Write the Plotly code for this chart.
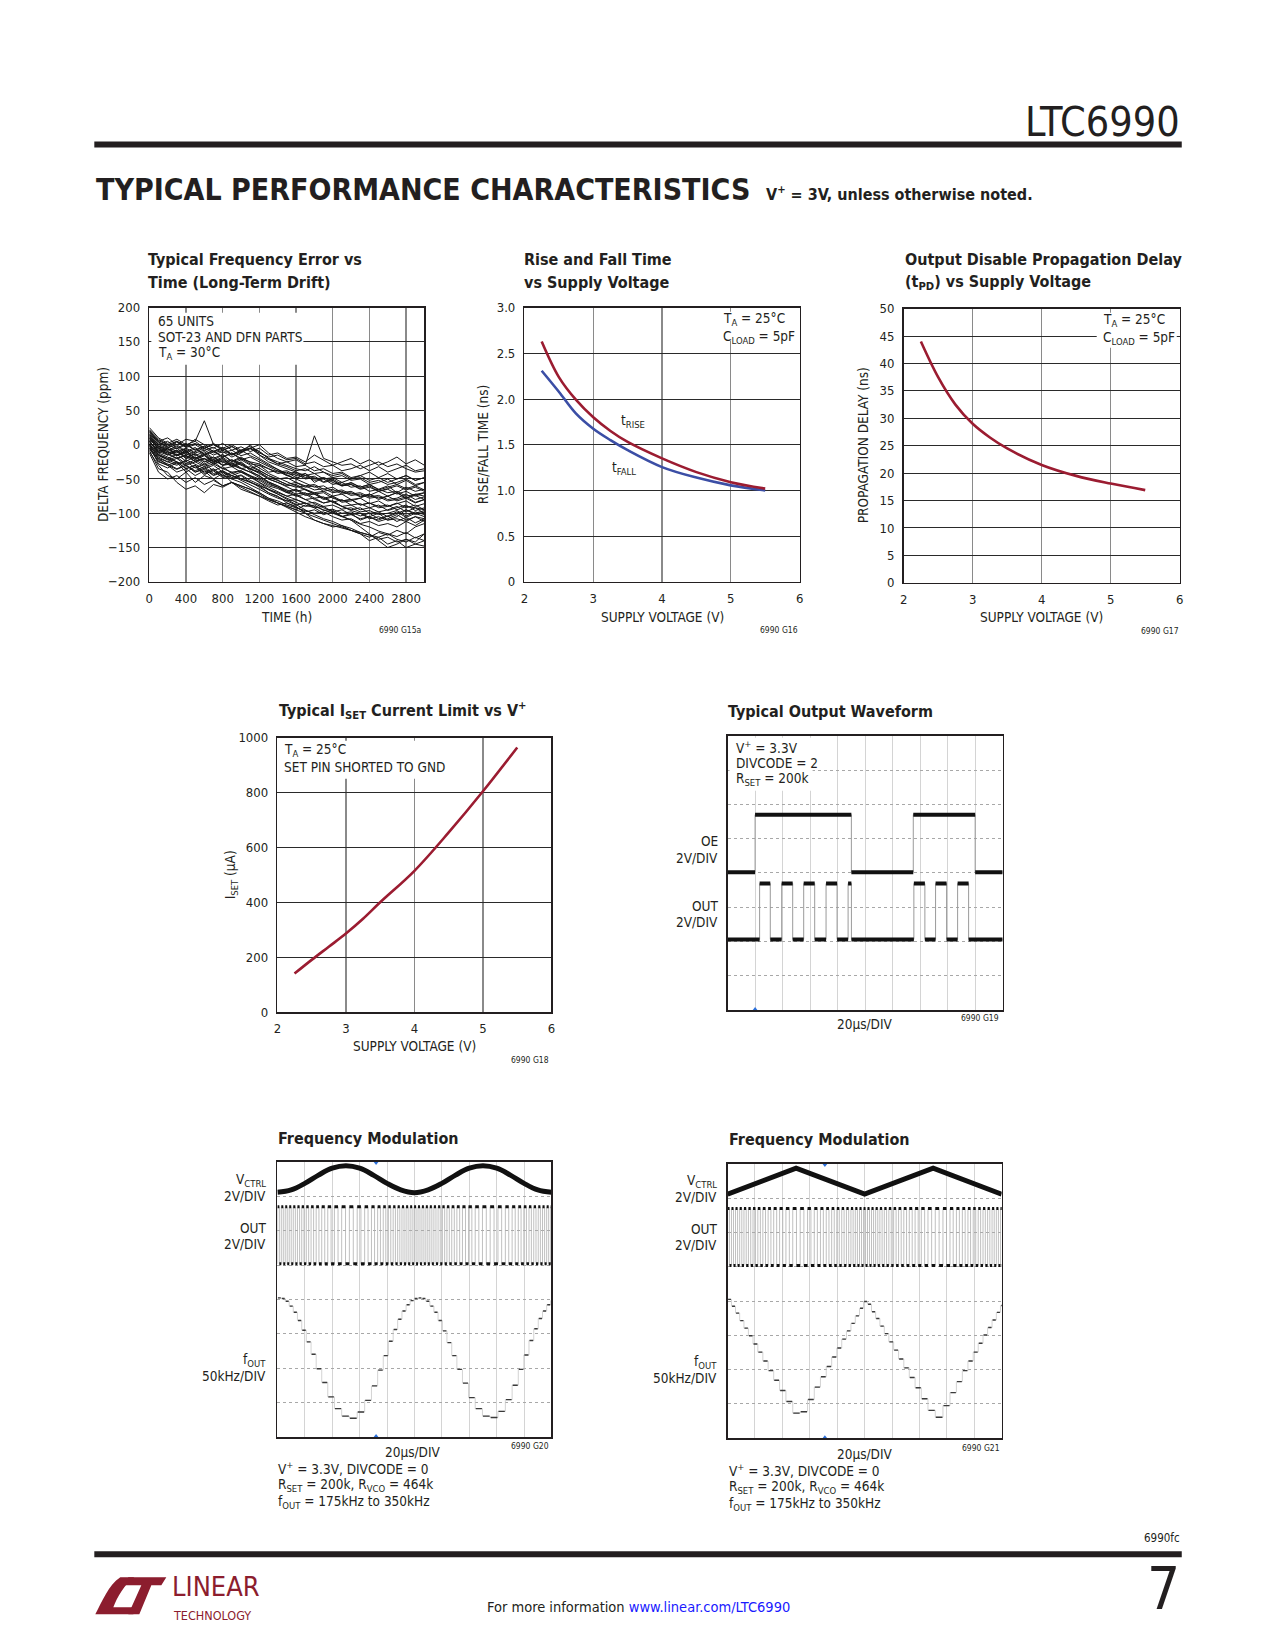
import plotly.graph_objects as go

W, H = 1275, 1650          # page size
M = 8                      # default page margin around the figure
FW, FH = W - 2 * M, H - 2 * M
SX, OX = 1.0068, -3.8      # fine layout calibration (page px)
SY, OY = 1.0097, -6.6
FONT = "Liberation Sans Narrow, DejaVu Sans Condensed, Arial Narrow, sans-serif"
INK = "#231f20"
RED = "#9b1c31"
BLUE = "#3b4ea5"
TS = 13      # tick labels
AS = 13.5    # annotation / axis-title text
TT = 16      # chart titles

# ---------------- data: long-term drift (ppm) ----------------
TIME_H = [0, 100, 200, 300, 400, 500, 600, 700, 800, 900, 1000, 1100, 1200, 1300, 1400, 1500,
          1600, 1700, 1800, 1900, 2000, 2100, 2200, 2300, 2400, 2500, 2600, 2700, 2800, 2900, 3000]
DRIFT_PPM = [
    [5, -10, -15, -8, -20, -12, -25, -18, -30, -22, -28, -35, -30, -40, -38, -45, -50, -42, -55, -48, -52, -60, -55, -62, -58, -65, -60, -70, -62, -68, -65],
    [15, 0, -5, 5, -2, 8, 0, -5, 2, -8, -3, -10, -5, -15, -12, -20, -18, -25, -15, -22, -30, -25, -20, -28, -22, -30, -25, -18, -28, -22, -30],
    [-5, -25, -30, -40, -35, -45, -38, -50, -42, -55, -60, -65, -72, -80, -85, -90, -95, -100, -105, -110, -115, -120, -125, -130, -140, -135, -145, -140, -150, -145, -148],
    [10, -8, -12, -20, -15, -25, -20, -28, -22, -30, -35, -40, -45, -55, -60, -68, -65, -72, -70, -78, -75, -82, -80, -88, -85, -90, -88, -95, -90, -92, -95],
    [20, 5, 10, 0, 8, 5, 35, 0, -5, 0, -8, -5, -10, -20, -25, -30, -35, -38, -32, -40, -45, -42, -50, -48, -55, -52, -58, -55, -50, -58, -55],
    [0, -20, -25, -30, -22, -28, -35, -30, -40, -45, -50, -55, -60, -70, -75, -85, -90, -100, -110, -115, -120, -118, -125, -130, -135, -128, -132, -125, -130, -120, -115],
    [12, -2, -8, -5, -15, -10, -5, -12, -8, -15, -10, -5, 0, -12, -20, -25, -22, -30, 13, -20, -25, -30, -28, -35, -30, -25, -32, -28, -35, -40, -38],
    [-10, -30, -45, -50, -40, -55, -45, -50, -60, -55, -65, -70, -75, -80, -85, -90, -95, -88, -92, -100, -95, -105, -100, -110, -105, -100, -110, -105, -95, -100, -105],
    [8, -5, -10, -15, -10, -20, -15, -25, -20, -30, -25, -35, -40, -50, -55, -60, -58, -65, -70, -68, -75, -72, -80, -78, -72, -80, -75, -82, -78, -85, -80],
    [18, 2, -3, -10, -5, -12, -8, -15, -10, -18, -12, 0, -15, -25, -30, -35, -40, -45, -42, -50, -48, -55, -50, -45, -52, -48, -55, -50, -45, -52, -48],
    [-2, -15, -20, -25, -35, -30, -40, -35, -45, -50, -45, -55, -60, -65, -70, -75, -80, -85, -90, -95, -100, -105, -110, -120, -130, -140, -150, -145, -138, -142, -130],
    [5, -12, -18, -25, -30, -25, -32, -28, -35, -40, -38, -45, -50, -58, -62, -70, -75, -72, -80, -85, -82, -90, -95, -92, -100, -98, -105, -100, -95, -102, -98],
    [22, 8, 0, 5, -3, 2, -5, 0, -8, -3, -10, -6, -12, -18, -15, -22, -20, -28, -25, -32, -30, -38, -35, -30, -38, -32, -40, -35, -30, -38, -35],
    [-8, -35, -40, -55, -65, -60, -70, -58, -62, -55, -60, -65, -70, -78, -82, -88, -92, -95, -100, -98, -105, -110, -108, -115, -112, -118, -115, -120, -112, -118, -110],
    [10, -5, -15, -10, -20, -18, -25, -22, -30, -28, -35, -32, -38, -45, -50, -48, -55, -60, -58, -65, -62, -70, -68, -75, -72, -78, -75, -70, -78, -72, -75],
    [3, -10, -5, -15, -8, -20, -12, -22, -15, -25, -20, -28, -30, -35, -42, -40, -48, -45, -52, -50, -58, -55, -62, -60, -68, -65, -70, -68, -75, -72, -70],
    [-5, -20, -30, -25, -35, -30, -42, -38, -48, -45, -52, -58, -65, -72, -78, -82, -88, -85, -92, -90, -98, -95, -102, -100, -108, -105, -110, -108, -112, -105, -108],
    [15, 0, 5, -5, 2, -8, -2, -10, -5, -15, -8, -2, -10, -20, -28, -32, -38, -35, -42, -40, -48, -45, -52, -50, -58, -55, -50, -58, -52, -60, -55],
    [7, -15, -22, -18, -28, -22, -30, -25, -35, -32, -40, -45, -55, -65, -72, -80, -88, -95, -102, -108, -112, -118, -122, -128, -132, -138, -135, -142, -138, -145, -140],
    [12, -3, -8, -2, -12, -6, -15, -10, -18, -12, -20, -25, -28, -35, -40, -38, -45, -42, -50, -48, -55, -60, -58, -65, -62, -68, -65, -72, -68, -75, -70],
    [0, -18, -25, -20, -30, -38, -32, -42, -38, -45, -40, -48, -55, -62, -68, -75, -72, -80, -78, -85, -82, -90, -88, -95, -92, -98, -95, -90, -98, -92, -100],
    [25, 10, 2, 8, 0, 5, -5, 2, -8, -2, -12, -5, -15, -22, -28, -25, -32, -30, -38, -35, -42, -40, -48, -45, -40, -48, -42, -50, -45, -52, -48],
    [-3, -22, -28, -35, -30, -40, -36, -45, -40, -50, -55, -62, -70, -78, -85, -92, -98, -105, -110, -115, -118, -122, -125, -128, -132, -135, -130, -138, -142, -135, -140],
    [9, -6, -12, -8, -18, -14, -22, -18, -26, -22, -30, -35, -42, -50, -55, -62, -68, -65, -72, -70, -78, -82, -80, -88, -85, -92, -90, -85, -92, -88, -95],
    [4, -8, -14, -20, -16, -24, -20, -28, -24, -32, -28, -36, -40, -48, -52, -58, -62, -60, -66, -64, -70, -68, -74, -72, -78, -76, -82, -80, -76, -84, -80],
    [16, 4, -2, 4, -4, 0, -8, -4, -12, -8, -16, -12, -20, -28, -36, -44, -50, -56, -62, -60, -68, -66, -72, -70, -76, -74, -80, -78, -72, -80, -76],
    [-12, -40, -50, -45, -55, -48, -58, -52, -60, -55, -62, -68, -75, -82, -88, -85, -92, -98, -95, -102, -98, -105, -102, -108, -105, -112, -108, -102, -110, -105, -112],
    [6, -12, -6, -16, -10, -20, -14, -24, -18, -28, -22, -30, -38, -45, -52, -58, -55, -62, -60, -68, -65, -72, -70, -76, -74, -68, -75, -70, -78, -74, -80],
    [19, 4, -4, 0, -10, -4, -14, -8, -18, -12, -22, -18, -25, -32, -38, -45, -42, -50, -48, -55, -52, -60, -58, -64, -60, -68, -64, -60, -66, -62, -68],
    [-1, -28, -34, -26, -40, -32, -44, -36, -46, -40, -50, -54, -62, -70, -76, -82, -80, -86, -84, -90, -88, -94, -92, -98, -96, -102, -100, -96, -104, -98, -102],
    [14, -4, -10, -16, -12, -22, -16, -26, -20, -32, -26, -38, -46, -54, -60, -66, -72, -70, -78, -76, -84, -80, -88, -86, -92, -88, -96, -92, -88, -96, -92],
    [2, -16, -22, -28, -24, -34, -28, -38, -32, -42, -38, -46, -52, -60, -64, -70, -66, -74, -72, -80, -76, -84, -82, -78, -86, -82, -90, -86, -82, -90, -86],
    [11, -2, -6, -12, -6, -16, -10, -20, -14, -24, -18, -26, -34, -42, -48, -54, -60, -66, -72, -78, -84, -90, -96, -100, -106, -110, -104, -112, -106, -114, -108],
    [-6, -24, -30, -36, -30, -40, -34, -44, -38, -48, -44, -52, -58, -66, -72, -78, -84, -90, -88, -96, -94, -100, -98, -104, -100, -108, -104, -98, -106, -100, -96],
    [21, 6, 0, -6, 0, -8, -2, -10, -4, -14, -8, -16, -22, -30, -36, -42, -40, -48, -46, -54, -50, -58, -56, -62, -58, -66, -62, -58, -64, -60, -66],
    [1, -14, -20, -14, -24, -18, -28, -22, -30, -26, -34, -40, -48, -56, -62, -68, -74, -80, -86, -92, -98, -104, -110, -116, -120, -126, -130, -134, -128, -136, -130],
]

# ---------------- data: rise / fall, tPD, ISET vs supply ----------------
SUPPLY_V = [2.25, 2.5, 2.75, 3.0, 3.25, 3.5, 4.0, 4.5, 5.0, 5.5]
T_RISE_NS = [2.63, 2.24, 1.99, 1.80, 1.65, 1.53, 1.35, 1.20, 1.09, 1.02]
T_FALL_NS = [2.31, 2.08, 1.84, 1.675, 1.55, 1.44, 1.255, 1.14, 1.055, 1.00]
T_PD_NS = [44.0, 37.5, 32.5, 29.0, 26.5, 24.5, 21.5, 19.5, 18.1, 16.9]
I_SET_UA = [140, 190, 238, 286, 340, 400, 515, 655, 805, 965]

# ---------------- data: output waveform (scope divisions) ----------------
OE_EDGES_DIV = [1.0, 4.5, 6.75, 9.0]
OE_LEVELS_DIV = [4.02, 5.70]          # low, high
OUT_EDGES_DIV = [1.165, 1.553, 1.966, 2.367, 2.767, 3.167, 3.580, 3.981, 4.381, 4.502,
                 6.772, 7.172, 7.561, 7.961, 8.362, 8.762]
OUT_LEVELS_DIV = [2.06, 3.69]         # low, high

# ---------------- data: frequency modulation ----------------
VCTRL_SINE_T = [0, 0.5, 1, 1.5, 2, 2.5, 3, 3.5, 4, 4.5, 5, 5.5, 6, 6.5, 7, 7.5, 8, 8.5, 9, 9.5, 10]
VCTRL_SINE_DIV = [7.12, 7.19, 7.38, 7.62, 7.82, 7.89, 7.82, 7.62, 7.38, 7.19, 7.11,
                  7.19, 7.38, 7.62, 7.82, 7.89, 7.82, 7.62, 7.38, 7.19, 7.12]
FOUT_SINE_KHZ = [350, 349, 345, 338, 329, 317, 303, 286, 268, 247, 227, 206, 189, 178, 175, 184, 201, 222,
                 245, 266, 287, 304, 319, 331, 340, 346, 349, 350, 349, 345, 338, 329, 317, 302, 285, 266,
                 246, 226, 205, 189, 178, 176, 185, 202, 223, 246, 267, 288, 305, 320, 331, 340, 346, 349]
VCTRL_TRI_T = [0, 2.5, 5, 7.5, 10]
VCTRL_TRI_DIV = [7.12, 7.88, 7.12, 7.88, 7.12]
FOUT_TRI_KHZ = [350, 340, 330, 319, 308, 297, 285, 273, 260, 246, 232, 217, 201, 184, 186, 204, 222, 237,
                252, 266, 279, 292, 304, 315, 326, 337, 347, 343, 332, 322, 311, 300, 288, 276, 263, 250,
                236, 221, 205, 188, 178, 195, 214, 230, 246, 260, 273, 286, 298, 309, 320, 331, 341]
FM_OUT_LEVELS_DIV = [5.04, 6.70]

fig = go.Figure()
annotations = []
shapes = []


def P(px, py):
    """page pixel -> paper coordinates of the figure (figure sits inside the page margin)"""
    px = px * SX + OX
    py = py * SY + OY
    return (px - M) / FW, 1 - (py - M) / FH


def text(px, py, s, size=AS, xanchor="left", yanchor="middle", color=INK, bold=False, family=FONT, angle=0):
    x, y = P(px, py)
    annotations.append(dict(x=x, y=y, xref="paper", yref="paper", text=(f"<b>{s}</b>" if bold else s),
                            showarrow=False, xanchor=xanchor, yanchor=yanchor, textangle=angle,
                            font=dict(family=family, size=size, color=color)))


def rect(px0, py0, px1, py1, color, layer="above"):
    x0, y0 = P(px0, py0)
    x1, y1 = P(px1, py1)
    shapes.append(dict(type="rect", xref="paper", yref="paper", x0=x0, y0=y1, x1=x1, y1=y0,
                       fillcolor=color, line=dict(width=0), layer=layer))


def axes(n, box, xr, yr, xt=None, yt=None, xtt=None, ytt=None, scope=False):
    x0, x1, y0, y1 = box
    a0, b1 = P(x0, y0)
    a1, b0 = P(x1, y1)
    xd = [a0, a1]
    yd = [b0, b1]
    sx = "" if n == 1 else str(n)
    common = dict(showline=True, linecolor=INK, linewidth=1.6, mirror=True, zeroline=False,
                  fixedrange=True, tickfont=dict(family=FONT, size=TS, color=INK))
    if scope:
        xa = dict(common, domain=xd, range=xr, anchor="y" + sx, showticklabels=False, ticks="",
                  tickvals=list(range(1, 10)), showgrid=True, gridcolor="#d4d4d4", gridwidth=1)
        ya = dict(common, domain=yd, range=yr, anchor="x" + sx, showticklabels=False, ticks="",
                  tickvals=list(range(1, 8)), showgrid=True, gridcolor="#a8a8a8", gridwidth=1,
                  griddash="dot")
    else:
        xa = dict(common, domain=xd, range=xr, anchor="y" + sx, tickvals=xt, ticktext=xtt,
                  ticks="outside", ticklen=4, tickcolor="rgba(0,0,0,0)",
                  showgrid=True, gridcolor="#8a8a8a", gridwidth=1.3)
        ya = dict(common, domain=yd, range=yr, anchor="x" + sx, tickvals=yt, ticktext=ytt,
                  ticks="outside", ticklen=5, tickcolor="rgba(0,0,0,0)",
                  showgrid=True, gridcolor="#2a2a2a", gridwidth=1)
    fig.update_layout(**{"xaxis" + sx: xa, "yaxis" + sx: ya})
    return "x" + sx, "y" + sx


def line(xa, ya, x, y, color, width, shape="linear", dash="solid"):
    fig.add_trace(go.Scatter(x=x, y=y, xaxis=xa, yaxis=ya, mode="lines", showlegend=False,
                             hoverinfo="skip", line=dict(color=color, width=width, shape=shape, dash=dash)))


def data_text(xa, ya, x, y, s, size=AS, xanchor="left", yanchor="middle"):
    annotations.append(dict(x=x, y=y, xref=xa, yref=ya, text=s, showarrow=False, xanchor=xanchor,
                            yanchor=yanchor, font=dict(family=FONT, size=size, color=INK)))


# ================= header / footer =================
text(1181, 121, "LTC6990", size=41, xanchor="right")
rect(94, 141, 1181, 147, INK)
text(94, 189, "TYPICAL PERFORMANCE CHARACTERISTICS", size=30, bold=True)
text(763, 193, "V<sup>+</sup> = 3V, unless otherwise noted.", size=16, bold=True)
rect(94, 1550, 1181, 1556, INK)
text(1181, 1537, "6990fc", size=11.5, xanchor="right")
text(1181, 1588, "7", size=58, xanchor="right")
text(638, 1606, "For more information <span style='color:#1a1aff'>www.linear.com/LTC6990</span>",
     size=14.5, xanchor="center")
# logo
LOGO_RED = "#8c1d2e"
shapes.append(dict(type="path", xref="paper", yref="paper", fillcolor=LOGO_RED, line=dict(width=0),
                   path="M {} {} C {} {} {} {} {} {} L {} {} C {} {} {} {} {} {} L {} {} L {} {} Z".format(
                       *P(95, 1613), *P(102, 1600), *P(108, 1584), *P(120, 1576), *P(134, 1576),
                       *P(124, 1583), *P(117, 1596), *P(113, 1606), *P(136, 1606), *P(133, 1613))))
shapes.append(dict(type="path", xref="paper", yref="paper", fillcolor=LOGO_RED, line=dict(width=0),
                   path="M {} {} L {} {} L {} {} L {} {} L {} {} L {} {} L {} {} L {} {} Z".format(
                       *P(128, 1576), *P(166, 1576), *P(161, 1584), *P(151, 1584), *P(139, 1613),
                       *P(128, 1613), *P(141, 1584), *P(125, 1584))))
text(170, 1603, "LINEAR", size=27, color=LOGO_RED, yanchor="bottom")
text(171, 1605, "TECHNOLOGY", size=12.5, color=LOGO_RED, yanchor="top")

# ================= chart 1: long-term drift =================
xa, ya = axes(1, (149, 424, 307, 581), [0, 3000], [-200, 200],
              xt=[0, 400, 800, 1200, 1600, 2000, 2400, 2800], yt=list(range(-200, 201, 50)),
              ytt=["\u2212200", "\u2212150", "\u2212100", "\u221250", "0", "50", "100", "150", "200"])
for tr in DRIFT_PPM:
    line(xa, ya, TIME_H, tr, "#161616", 1.0)
text(146, 259, "Typical Frequency Error vs", size=TT, bold=True)
text(146, 282, "Time (Long-Term Drift)", size=TT, bold=True)
rect(151, 312, 303, 364, "white")
text(156, 320, "65 UNITS")
text(156, 336, "SOT-23 AND DFN PARTS")
text(156, 352, "T<sub>A</sub> = 30°C")
text(286, 616, "TIME (h)", xanchor="center")
text(102, 444, "DELTA FREQUENCY (ppm)", angle=-90, xanchor="center")
text(423, 629, "6990 G15a", size=8.5, xanchor="right")

# ================= chart 2: rise and fall =================
xa, ya = axes(2, (524, 799, 307, 581), [2, 6], [0, 3], xt=[2, 3, 4, 5, 6],
              yt=[0, 0.5, 1, 1.5, 2, 2.5, 3], ytt=["0", "0.5", "1.0", "1.5", "2.0", "2.5", "3.0"])
line(xa, ya, SUPPLY_V, T_FALL_NS, BLUE, 2.6, shape="spline")
line(xa, ya, SUPPLY_V, T_RISE_NS, RED, 2.6, shape="spline")
text(522, 259, "Rise and Fall Time", size=TT, bold=True)
text(522, 282, "vs Supply Voltage", size=TT, bold=True)
rect(716, 311, 796, 340, "white")
text(720, 318, "T<sub>A</sub> = 25°C")
text(720, 336, "C<sub>LOAD</sub> = 5pF")
data_text(xa, ya, 3.38, 1.76, "t<sub>RISE</sub>")
data_text(xa, ya, 3.24, 1.25, "t<sub>FALL</sub>")
text(662, 616, "SUPPLY VOLTAGE (V)", xanchor="center")
text(482, 444, "RISE/FALL TIME (ns)", angle=-90, xanchor="center")
text(799, 629, "6990 G16", size=8.5, xanchor="right")

# ================= chart 3: propagation delay =================
xa, ya = axes(3, (903, 1179, 308, 582), [2, 6], [0, 50], xt=[2, 3, 4, 5, 6], yt=list(range(0, 51, 5)))
line(xa, ya, SUPPLY_V, T_PD_NS, RED, 2.6, shape="spline")
text(902, 259, "Output Disable Propagation Delay", size=TT, bold=True)
text(902, 282, "(t<sub>PD</sub>) vs Supply Voltage", size=TT, bold=True)
rect(1096, 312, 1176, 347, "white")
text(1100, 319, "T<sub>A</sub> = 25°C")
text(1100, 337, "C<sub>LOAD</sub> = 5pF")
text(1041, 616, "SUPPLY VOLTAGE (V)", xanchor="center")
text(862, 445, "PROPAGATION DELAY (ns)", angle=-90, xanchor="center")
text(1180, 630, "6990 G17", size=8.5, xanchor="right")

# ================= chart 4: ISET =================
xa, ya = axes(4, (277, 551, 737, 1011), [2, 6], [0, 1000], xt=[2, 3, 4, 5, 6],
              yt=[0, 200, 400, 600, 800, 1000])
line(xa, ya, SUPPLY_V, I_SET_UA, RED, 2.6, shape="spline")
text(277, 710, "Typical I<sub>SET</sub> Current Limit vs V<sup>+</sup>", size=TT, bold=True)
rect(279, 740, 442, 778, "white")
text(282, 749, "T<sub>A</sub> = 25°C")
text(282, 766, "SET PIN SHORTED TO GND")
text(414, 1045, "SUPPLY VOLTAGE (V)", xanchor="center")
text(231, 874, "I<sub>SET</sub> (μA)", angle=-90, xanchor="center")
text(551, 1059, "6990 G18", size=8.5, xanchor="right")


# ================= helpers for scope traces =================
def step_wave(edges, lo, hi, x0=0.0, x1=10.0):
    xs, ys = [x0], [lo]
    lvl = lo
    for e in edges:
        nxt = hi if lvl == lo else lo
        xs += [e, e]
        ys += [lvl, nxt]
        lvl = nxt
    xs.append(x1)
    ys.append(lvl)
    return xs, ys


def level_segments(edges, lo, hi, x0=0.0, x1=10.0):
    bounds = [x0] + list(edges) + [x1]
    xs, ys = [], []
    lvl = lo
    for a, b in zip(bounds[:-1], bounds[1:]):
        xs += [a, b, None]
        ys += [lvl, lvl, None]
        lvl = hi if lvl == lo else lo
    return xs, ys


def fm_traces(xa, ya, freqs, base):
    # cycle boundaries from per-cycle frequency (20us/div -> period in div = 50/f[kHz])
    t = [0.0]
    for f in freqs:
        t.append(t[-1] + 50.0 / f)
    lo, hi = FM_OUT_LEVELS_DIV
    edges = []
    for i, f in enumerate(freqs):
        edges += [t[i], t[i] + 25.0 / f]
    ex, ey = [], []
    for e in edges:
        ex += [e, e, None]
        ey += [lo, hi, None]
    line(xa, ya, ex, ey, "#b0b0b0", 0.8)
    sx, sy = level_segments(edges[1:], hi, lo, x0=edges[0])
    line(xa, ya, sx, sy, "#111111", 3)
    # fOUT staircase
    fx, fy, dx, dy = [], [], [], []
    for i, f in enumerate(freqs):
        lvl = base + (f - 175) / 50.0
        fx += [t[i], t[i + 1]]
        fy += [lvl, lvl]
        dx += [t[i] + 0.02, t[i + 1] - 0.02, None]
        dy += [lvl, lvl, None]
    line(xa, ya, fx, fy, "#c8c8c8", 0.8)
    line(xa, ya, dx, dy, "#3a3a3a", 1.4)


def trigger(xa, ya, x, top=True, bottom=True):
    xs, ys, sy = [], [], []
    if top:
        xs.append(x); ys.append(7.97); sy.append("triangle-down")
    if bottom:
        xs.append(x); ys.append(0.03); sy.append("triangle-up")
    fig.add_trace(go.Scatter(x=xs, y=ys, xaxis=xa, yaxis=ya, mode="markers", showlegend=False,
                             hoverinfo="skip", cliponaxis=False,
                             marker=dict(color="#2a6fdb", size=4, symbol=sy)))


# ================= chart 5: output waveform =================
xa, ya = axes(5, (727, 1002, 735, 1009), [0, 10], [0, 8], scope=True)
sx, sy = step_wave(OE_EDGES_DIV, *OE_LEVELS_DIV)
line(xa, ya, sx, sy, "#9a9a9a", 1)
sx, sy = level_segments(OE_EDGES_DIV, *OE_LEVELS_DIV)
line(xa, ya, sx, sy, "#111111", 4)
sx, sy = step_wave(OUT_EDGES_DIV, *OUT_LEVELS_DIV)
line(xa, ya, sx, sy, "#9a9a9a", 1)
sx, sy = level_segments(OUT_EDGES_DIV, *OUT_LEVELS_DIV)
line(xa, ya, sx, sy, "#111111", 4)
trigger(xa, ya, 1.0, top=False)
text(725, 711, "Typical Output Waveform", size=TT, bold=True)
rect(729, 737, 812, 790, "white")
text(733, 746, "V<sup>+</sup> = 3.3V")
text(733, 762, "DIVCODE = 2")
text(733, 778, "R<sub>SET</sub> = 200k")
text(719, 840, "OE", xanchor="right")
text(719, 857, "2V/DIV", xanchor="right")
text(719, 905, "OUT", xanchor="right")
text(719, 921, "2V/DIV", xanchor="right")
text(864, 1023, "20µs/DIV", xanchor="center")
text(1000, 1017, "6990 G19", size=8.5, xanchor="right")

# ================= chart 6: FM sine =================
xa, ya = axes(6, (277, 551, 1161, 1436), [0, 10], [0, 8], scope=True)
line(xa, ya, VCTRL_SINE_T, VCTRL_SINE_DIV, "#111111", 5, shape="spline")
fm_traces(xa, ya, FOUT_SINE_KHZ, 0.55)
trigger(xa, ya, 3.6)
text(276, 1137, "Frequency Modulation", size=TT, bold=True)
for i, (a, b) in enumerate([("V<sub>CTRL</sub>", "2V/DIV"), ("OUT", "2V/DIV"), ("f<sub>OUT</sub>", "50kHz/DIV")]):
    yy = [1179, 1227, 1359][i]
    text(268, yy, a, xanchor="right")
    text(268, yy + 16, b, xanchor="right")
text(413, 1451, "20µs/DIV", xanchor="center")
text(551, 1445, "6990 G20", size=8.5, xanchor="right")
text(276, 1467, "V<sup>+</sup> = 3.3V, DIVCODE = 0")
text(276, 1484, "R<sub>SET</sub> = 200k, R<sub>VCO</sub> = 464k")
text(276, 1501, "f<sub>OUT</sub> = 175kHz to 350kHz")

# ================= chart 7: FM triangle =================
xa, ya = axes(7, (727, 1001, 1163, 1437), [0, 10], [0, 8], scope=True)
line(xa, ya, VCTRL_TRI_T, VCTRL_TRI_DIV, "#111111", 5)
fm_traces(xa, ya, FOUT_TRI_KHZ, 0.55)
trigger(xa, ya, 3.55)
text(726, 1138, "Frequency Modulation", size=TT, bold=True)
for i, (a, b) in enumerate([("V<sub>CTRL</sub>", "2V/DIV"), ("OUT", "2V/DIV"), ("f<sub>OUT</sub>", "50kHz/DIV")]):
    yy = [1180, 1228, 1361][i]
    text(718, yy, a, xanchor="right")
    text(718, yy + 16, b, xanchor="right")
text(864, 1453, "20µs/DIV", xanchor="center")
text(1001, 1447, "6990 G21", size=8.5, xanchor="right")
text(726, 1469, "V<sup>+</sup> = 3.3V, DIVCODE = 0")
text(726, 1486, "R<sub>SET</sub> = 200k, R<sub>VCO</sub> = 464k")
text(726, 1503, "f<sub>OUT</sub> = 175kHz to 350kHz")

fig.update_layout(width=FW, height=FH, margin=dict(l=0, r=0, t=0, b=0), paper_bgcolor="white",
                  plot_bgcolor="white", showlegend=False, annotations=annotations, shapes=shapes,
                  font=dict(family=FONT, color=INK))
fig.write_html("out.html", include_plotlyjs=True,
               config={"displayModeBar": False, "staticPlot": True})
